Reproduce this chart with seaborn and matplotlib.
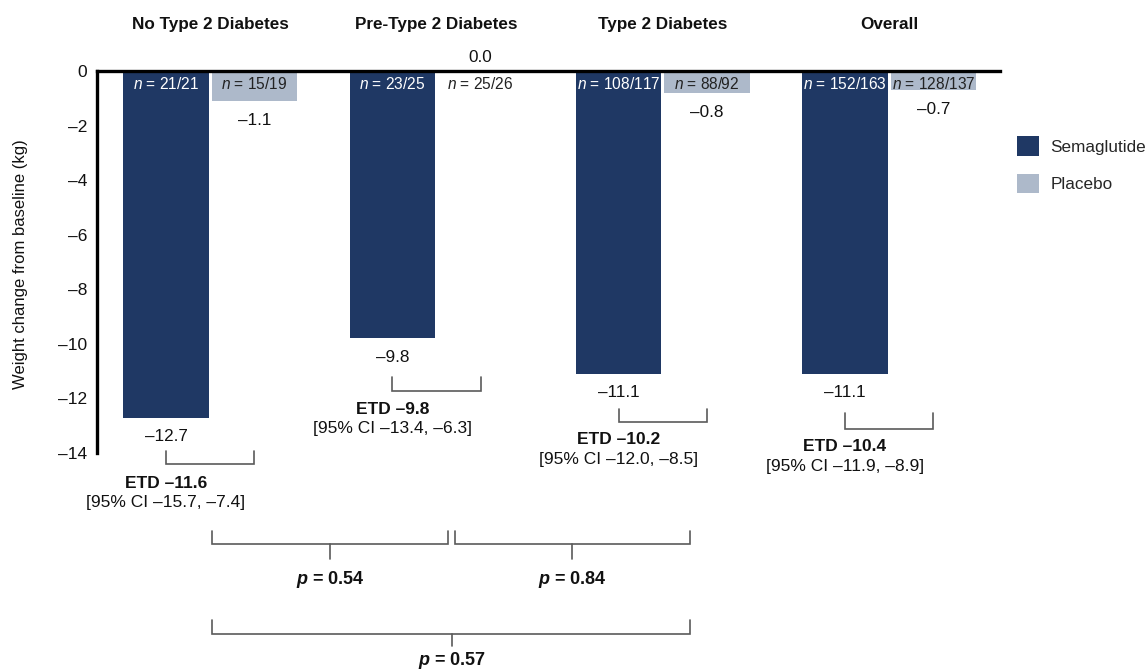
import matplotlib
matplotlib.use("Agg")
import matplotlib.pyplot as plt
import seaborn as sns
import pandas as pd
from matplotlib.patches import Patch

# ---- data -------------------------------------------------------------
groups = ["No Type 2 Diabetes", "Pre-Type 2 Diabetes", "Type 2 Diabetes", "Overall"]
treatments = ["Semaglutide", "Placebo"]
semaglutide_change = [-12.7, -9.8, -11.1, -11.1]
placebo_change = [-1.1, 0.0, -0.8, -0.7]
semaglutide_n = ["21/21", "23/25", "108/117", "152/163"]
placebo_n = ["15/19", "25/26", "88/92", "128/137"]
etd_values = [-11.6, -9.8, -10.2, -10.4]
etd_ci_low = [-15.7, -13.4, -12.0, -11.9]
etd_ci_high = [-7.4, -6.3, -8.5, -8.9]
p_values = [0.54, 0.84, 0.57]
y_ticks = [0, -2, -4, -6, -8, -10, -12, -14]

# ---- style ------------------------------------------------------------
NAVY = "#1f3864"
GREY = "#adb9ca"
LINE = "#5a5a5a"
TEXT = "#111111"

sns.set_theme(style="white")
plt.rcParams["font.family"] = ["Liberation Sans", "DejaVu Sans"]
plt.rcParams["mathtext.fontset"] = "custom"
plt.rcParams["mathtext.rm"] = "Liberation Sans"
plt.rcParams["mathtext.it"] = "Liberation Sans:italic"
plt.rcParams["mathtext.bf"] = "Liberation Sans:bold"
plt.rcParams["mathtext.bfit"] = "Liberation Sans:bold:italic"


def fmt(v):
    s = f"{abs(v):.1f}"
    return "\u2013" + s if v < 0 else s


def fmt_tick(v):
    return "\u2013" + str(abs(v)) if v < 0 else str(v)


df = pd.DataFrame({
    "group": groups * 2,
    "treatment": [treatments[0]] * 4 + [treatments[1]] * 4,
    "change": semaglutide_change + placebo_change,
})

fig = plt.figure(figsize=(11.48, 6.69), dpi=100)
ax = fig.add_axes([97 / 1148, 1 - 453 / 669, 903 / 1148, 382 / 669])

sns.barplot(data=df, x="group", y="change", hue="treatment",
            order=groups, hue_order=treatments, palette=[NAVY, GREY],
            saturation=1, width=0.78, gap=0.034, errorbar=None,
            linewidth=0, legend=False, ax=ax)

ax.set_xlim(-0.5, 3.49)
ax.set_ylim(-14, 0)
ax.set_xlabel("")
ax.set_xticks([])
ax.set_yticks(y_ticks)
ax.set_yticklabels([fmt_tick(t) for t in y_ticks], fontsize=12.5, color=TEXT)
ax.tick_params(axis="y", length=0, pad=7)
ax.set_ylabel("Weight change from baseline (kg)", fontsize=12, color=TEXT)
ax.yaxis.set_label_coords(-0.076, 0.495)

for side in ("bottom", "right"):
    ax.spines[side].set_visible(False)
for side in ("top", "left"):
    ax.spines[side].set_visible(True)
    ax.spines[side].set_color("black")
    ax.spines[side].set_linewidth(2.4)
ax.spines["top"].set_zorder(5)

sema_bars = ax.containers[0]
plac_bars = ax.containers[1]

sema_x = [b.get_x() + b.get_width() / 2 for b in sema_bars]
plac_x = [b.get_x() + b.get_width() / 2 for b in plac_bars]

# group headers
for i, g in enumerate(groups):
    ax.text(i, 1.72, g, ha="center", va="center", fontsize=12.3,
            fontweight="bold", color=TEXT, clip_on=False)

# n labels and value labels
for i in range(len(groups)):
    ax.text(sema_x[i], -0.48, f"$n$ = {semaglutide_n[i]}", ha="center",
            va="center", fontsize=11.2, color="white", zorder=6)
    ax.text(plac_x[i], -0.48, f"$n$ = {placebo_n[i]}", ha="center",
            va="center", fontsize=11.2, color="#222222", zorder=6)
    sv = semaglutide_change[i]
    ax.text(sema_x[i], sv - 0.7, fmt(sv), ha="center", va="center",
            fontsize=12.3, color=TEXT, clip_on=False)
    pv = placebo_change[i]
    py = 0.51 if pv == 0 else pv - 0.72
    ax.text(plac_x[i], py, fmt(pv), ha="center", va="center",
            fontsize=12.3, color=TEXT, clip_on=False)


def bracket(x0, x1, y_top, y_line, xm=None, y_tick=None):
    ax.plot([x0, x0, x1, x1], [y_top, y_line, y_line, y_top], color=LINE,
            lw=1.2, clip_on=False, solid_joinstyle="miter")
    if xm is not None:
        ax.plot([xm, xm], [y_line, y_tick], color=LINE, lw=1.2, clip_on=False)


# treatment differences per subgroup
etd_layout = [(-13.92, -14.40, -15.10, -15.83),
              (-11.21, -11.73, -12.39, -13.12),
              (-12.39, -12.86, -13.52, -14.25),
              (-12.53, -13.12, -13.78, -14.51)]
for i, (yt, yl, ye, yc) in enumerate(etd_layout):
    bracket(sema_x[i], plac_x[i], yt, yl)
    ax.text(sema_x[i], ye, f"ETD {fmt(etd_values[i])}", ha="center",
            va="center", fontsize=12.5, fontweight="bold", color=TEXT,
            clip_on=False)
    ax.text(sema_x[i], yc,
            f"[95% CI {fmt(etd_ci_low[i])}, {fmt(etd_ci_high[i])}]",
            ha="center", va="center", fontsize=12.5, color=TEXT,
            clip_on=False)

# interaction p-values between subgroups (label baseline positions)
p_layout = [(0.01, 1.05, 0.53, -16.86, -17.33, -17.88, -18.80),
            (1.08, 2.12, 1.60, -16.86, -17.33, -17.88, -18.80),
            (0.01, 2.12, 1.07, -20.12, -20.63, -21.08, -21.76)]
for pval, (x0, x1, xm, yt, yl, yk, ytx) in zip(p_values, p_layout):
    bracket(x0, x1, yt, yl, xm, yk)
    ax.text(xm, ytx, r"$\mathbfit{p}$" + f" = {pval:.2f}", ha="center",
            va="baseline", fontsize=13, fontweight="bold", color=TEXT,
            clip_on=False)

# legend
handles = [Patch(facecolor=NAVY, edgecolor="none"),
           Patch(facecolor=GREY, edgecolor="none")]
ax.legend(handles, treatments, loc="upper left",
          bbox_to_anchor=(1017 / 1148, 1 - 136 / 669),
          bbox_transform=fig.transFigure, frameon=False, fontsize=12.3,
          handlelength=1.3, handleheight=1.4, handletextpad=0.65,
          labelspacing=1.05, borderpad=0, borderaxespad=0)

fig.savefig("out.png", dpi=100)
